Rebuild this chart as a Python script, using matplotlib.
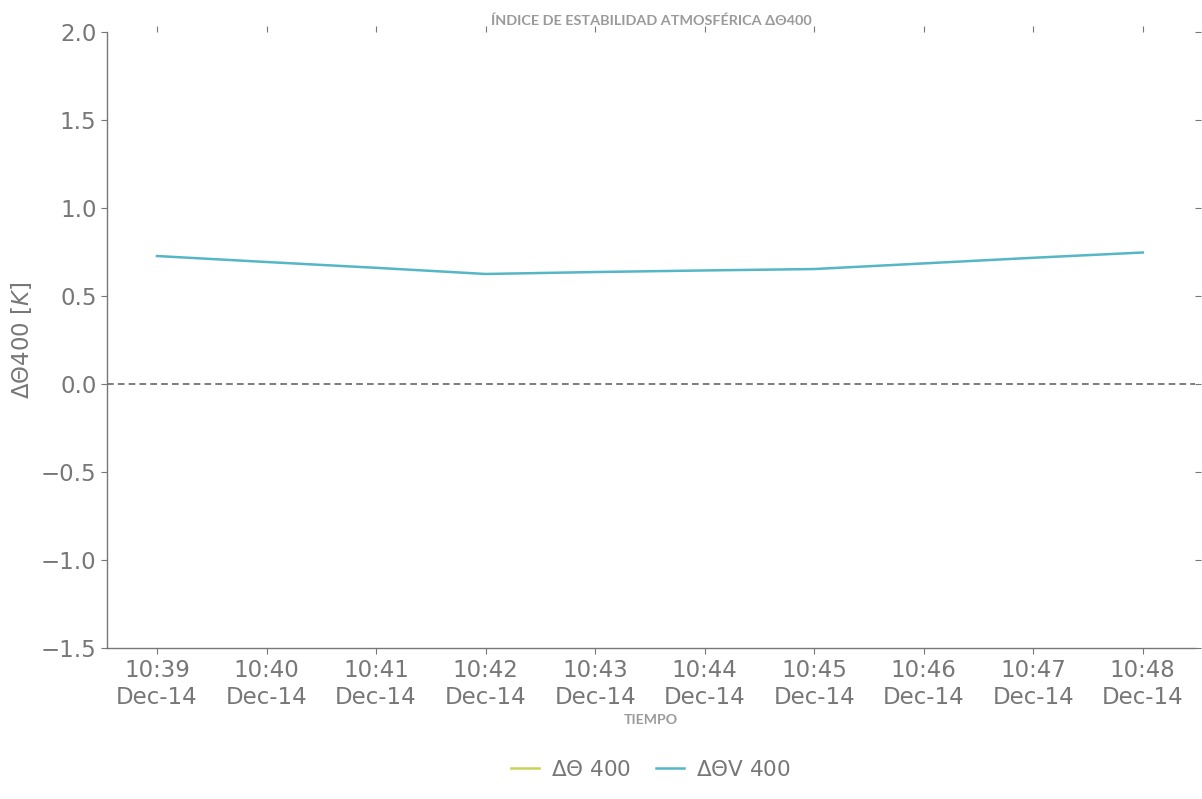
import numpy as np
import pandas as pd
import matplotlib
matplotlib.use("Agg")
import matplotlib.pyplot as plt
import matplotlib.dates as mdates

# datos
tiempos = pd.date_range("2023-12-14 10:39", "2023-12-14 10:48", freq="1min")
delta_theta_v = [0.727, 0.693, 0.660, 0.625, 0.636, 0.645, 0.653, 0.685, 0.717, 0.747]
delta_theta = [np.nan] * len(tiempos)  # sin datos

gris = "#777777"
gris_titulo = "#9a9a9a"

fig, ax = plt.subplots(figsize=(12.02, 7.99), dpi=100)
fig.subplots_adjust(left=0.089, right=0.994, top=0.96, bottom=0.189)

ax.plot(tiempos, delta_theta, color="#c5d35b", lw=1.8, label=r"$\Delta\Theta$ 400")
ax.plot(tiempos, delta_theta_v, color="#55b6c6", lw=1.8, label=r"$\Delta\Theta$V 400")
ax.axhline(0, color="#666666", ls="--", lw=1.2, dashes=(4, 2.5))

ax.set_ylim(-1.5, 2.0)
ax.set_xlim(pd.Timestamp("2023-12-14 10:38:32.6"), pd.Timestamp("2023-12-14 10:48:28.5"))
ax.xaxis.set_major_locator(mdates.MinuteLocator())
ax.xaxis.set_major_formatter(mdates.DateFormatter("%H:%M\n%b-%d"))

for s in ["top", "right"]:
    ax.spines[s].set_visible(False)
for s in ["left", "bottom"]:
    ax.spines[s].set_color(gris)
    ax.spines[s].set_linewidth(1.0)

ax.tick_params(axis="both", colors=gris, labelsize=16.5, length=4, labelcolor=gris)
ax.tick_params(top=True, right=True, direction="out")
ax.tick_params(axis="x", pad=4)

ax.set_ylabel(r"$\Delta\Theta$400 [$K$]", color=gris, fontsize=16.5, labelpad=5)
ax.set_xlabel("TIEMPO", color=gris_titulo, fontsize=10.2, fontweight="bold",
              family="Lato", labelpad=4)
ax.set_title("ÍNDICE DE ESTABILIDAD ATMOSFÉRICA ΔΘ400", color=gris_titulo,
             fontsize=10.4, fontweight="bold", family=["Lato", "DejaVu Sans"], pad=5)

leg = ax.legend(loc="upper center", bbox_to_anchor=(0.5, -0.15), ncol=2,
                frameon=False, fontsize=15.5, handlelength=1.3, handletextpad=0.55,
                columnspacing=1.2)
for t in leg.get_texts():
    t.set_color(gris)

fig.savefig("out.png", dpi=100)
